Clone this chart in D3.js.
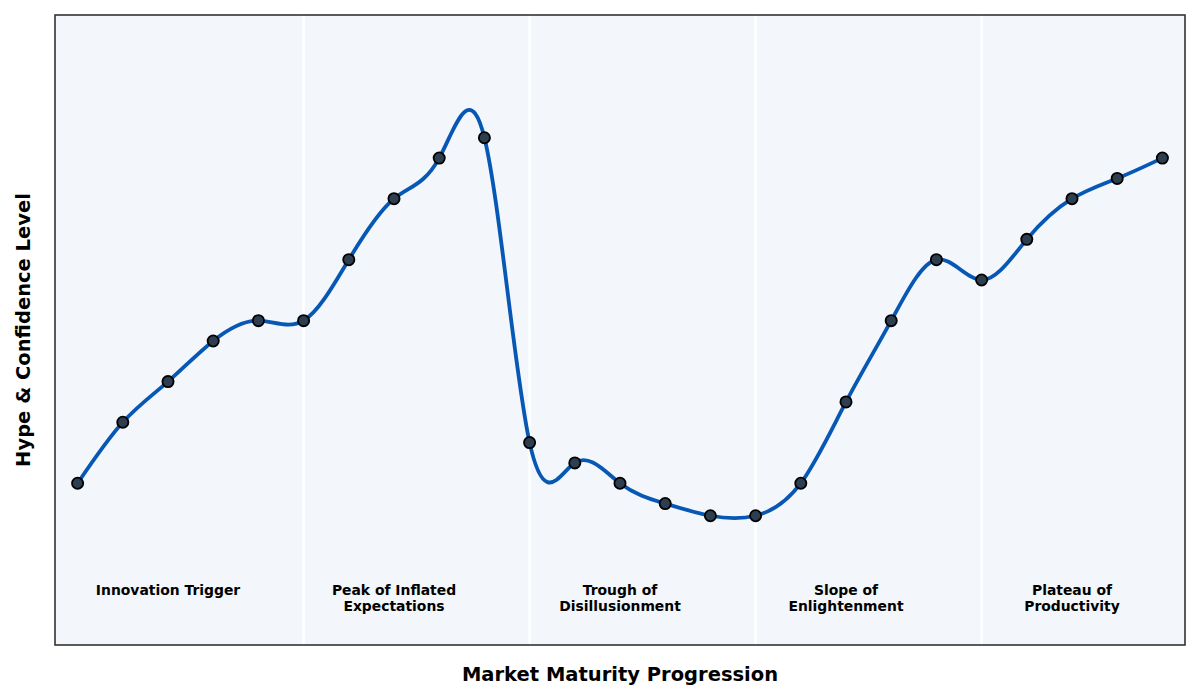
<!DOCTYPE html>
<html><head><meta charset="utf-8">
<script src="https://cdn.jsdelivr.net/npm/d3@7"></script>
<style>body{margin:0;background:#fff}svg{display:block}</style>
</head><body>
<svg id="c" width="1200" height="700"></svg>
<script>
const hypeValues = [20, 35, 45, 55, 60, 60, 75, 90, 100, 105, 30, 25, 20, 15, 12, 12, 20, 40, 60, 75, 70, 80, 90, 95, 100];
const phaseBoundaries = [5, 10, 15, 20];
const phaseCenters = [2, 7, 12, 17, 22];
const phaseLabels = [["Innovation Trigger"], ["Peak of Inflated", "Expectations"], ["Trough of", "Disillusionment"], ["Slope of", "Enlightenment"], ["Plateau of", "Productivity"]];
const xLabel = "Market Maturity Progression";
const yLabel = "Hype & Confidence Level";

const svg = d3.select("#c");
const L = 55, R = 1185, T = 15, B = 645;
const x = d3.scaleLinear().domain([-0.5, hypeValues.length - 0.5]).range([L, R]);
const y = d3.scaleLinear().domain([-19.8, 135.2]).range([B, T]);

svg.append("rect").attr("x", L).attr("y", T).attr("width", R - L).attr("height", B - T).attr("fill", "#f3f6fa");

svg.selectAll("line.sep").data(phaseBoundaries).join("line").attr("class", "sep")
  .attr("x1", d => x(d)).attr("x2", d => x(d)).attr("y1", T).attr("y2", B)
  .attr("stroke", "#ffffff").attr("stroke-width", 2.5);

const pts = hypeValues.map((v, i) => [i, v]);
const line = d3.line().x(d => x(d[0])).y(d => y(d[1])).curve(d3.curveNatural);
svg.append("path").attr("d", line(pts)).attr("fill", "none").attr("stroke", "#0758b4").attr("stroke-width", 3.8);

svg.selectAll("circle").data(pts).join("circle")
  .attr("cx", d => x(d[0])).attr("cy", d => y(d[1])).attr("r", 5.6)
  .attr("fill", "#2c3e50").attr("stroke", "#000").attr("stroke-width", 1.8);

const lbl = svg.selectAll("text.phase").data(phaseCenters).join("text").attr("class", "phase")
  .attr("x", d => x(d)).attr("y", 595).attr("text-anchor", "middle")
  .attr("font-family", "DejaVu Sans").attr("font-weight", "bold").attr("font-size", 13.9).attr("fill", "#000");
lbl.each(function(d, i) {
  const t = d3.select(this);
  phaseLabels[i].forEach((s, k) => t.append("tspan").attr("x", x(d)).attr("dy", k === 0 ? 0 : 16).text(s));
});

svg.append("rect").attr("x", L).attr("y", T).attr("width", R - L).attr("height", B - T)
  .attr("fill", "none").attr("stroke", "#333").attr("stroke-width", 1.6);

svg.append("text").attr("x", (L + R) / 2).attr("y", 681).attr("text-anchor", "middle")
  .attr("font-family", "DejaVu Sans").attr("font-weight", "bold").attr("font-size", 19.5).text(xLabel);
svg.append("text").attr("transform", `translate(30,${(T + B) / 2}) rotate(-90)`).attr("text-anchor", "middle")
  .attr("font-family", "DejaVu Sans").attr("font-weight", "bold").attr("font-size", 19.5).text(yLabel);
</script>
</body></html>
